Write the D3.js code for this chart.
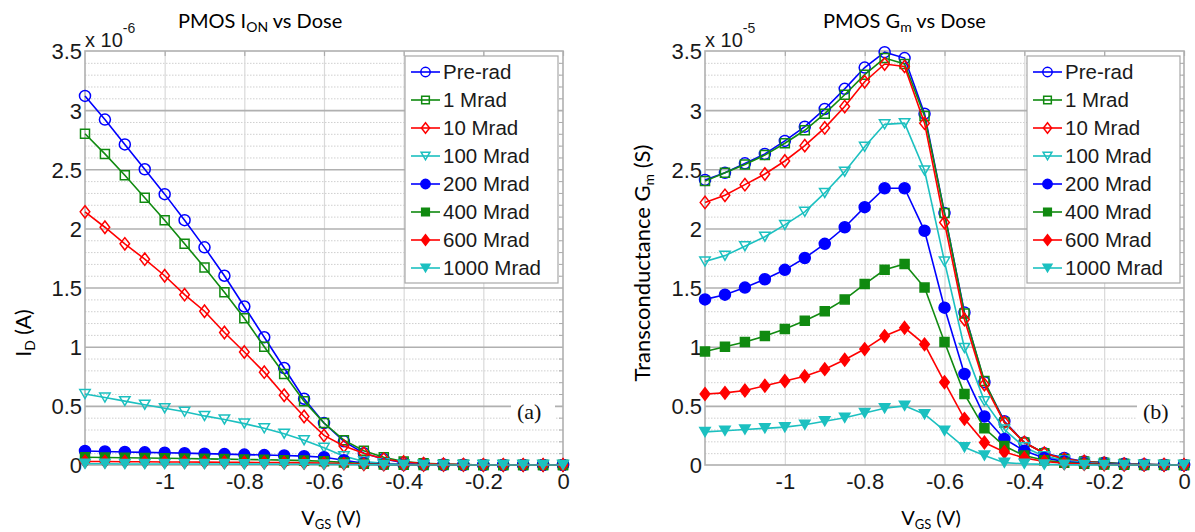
<!DOCTYPE html>
<html>
<head>
<meta charset="utf-8">
<script src="https://cdn.jsdelivr.net/npm/d3@7"></script>
<style>
  html, body { margin: 0; padding: 0; background: #fff; }
  svg { display: block; }
</style>
</head>
<body>
<svg id="chart" width="1195" height="532"></svg>
<script>
// ---------------- DATA ----------------
const vgs = [-1.2, -1.15, -1.1, -1.05, -1.0, -0.95, -0.9, -0.85, -0.8, -0.75, -0.7, -0.65, -0.6,
             -0.55, -0.5, -0.45, -0.4, -0.35, -0.3, -0.25, -0.2, -0.15, -0.1, -0.05, 0];

const seriesNames = ["Pre-rad", "1 Mrad", "10 Mrad", "100 Mrad", "200 Mrad", "400 Mrad", "600 Mrad", "1000 Mrad"];

// Drain current I_D (units of 1e-6 A)
const ionPreRad = [3.12, 2.92, 2.71, 2.50, 2.29, 2.07, 1.84, 1.60, 1.34, 1.08, 0.82, 0.56, 0.355, 0.20, 0.10, 0.05, 0.02, 0.01, 0.005, 0.002, 0, 0, 0, 0, 0];
const ion1M     = [2.80, 2.63, 2.45, 2.26, 2.07, 1.87, 1.67, 1.46, 1.24, 1.00, 0.77, 0.54, 0.355, 0.21, 0.12, 0.065, 0.03, 0.015, 0.007, 0.003, 0, 0, 0, 0, 0];
const ion10M    = [2.14, 2.01, 1.87, 1.74, 1.60, 1.44, 1.30, 1.12, 0.955, 0.785, 0.59, 0.41, 0.25, 0.16, 0.10, 0.05, 0.025, 0.012, 0.006, 0.003, 0, 0, 0, 0, 0];
const ion100M   = [0.60, 0.57, 0.54, 0.51, 0.48, 0.45, 0.415, 0.385, 0.35, 0.31, 0.265, 0.21, 0.145, 0.075, 0.03, 0.015, 0.006, 0.003, 0.001, 0, 0, 0, 0, 0, 0];
const ion200M   = [0.118, 0.114, 0.11, 0.107, 0.104, 0.10, 0.096, 0.092, 0.088, 0.084, 0.08, 0.075, 0.066, 0.04, 0.015, 0.006, 0.003, 0.001, 0, 0, 0, 0, 0, 0, 0];
const ion400M   = [0.065, 0.063, 0.061, 0.059, 0.057, 0.055, 0.052, 0.05, 0.047, 0.044, 0.041, 0.037, 0.032, 0.022, 0.01, 0.004, 0.002, 0.001, 0, 0, 0, 0, 0, 0, 0];
const ion600M   = [0.03, 0.029, 0.028, 0.027, 0.026, 0.025, 0.024, 0.023, 0.022, 0.021, 0.02, 0.018, 0.016, 0.012, 0.006, 0.003, 0.001, 0, 0, 0, 0, 0, 0, 0, 0];
const ion1000M  = [0.01, 0.01, 0.009, 0.009, 0.009, 0.008, 0.008, 0.008, 0.007, 0.007, 0.006, 0.006, 0.005, 0.004, 0.002, 0.001, 0, 0, 0, 0, 0, 0, 0, 0, 0];

// Transconductance G_m (units of 1e-5 S)
const gmPreRad = [2.41, 2.47, 2.55, 2.63, 2.74, 2.86, 3.01, 3.18, 3.36, 3.49, 3.44, 2.97, 2.13, 1.29, 0.70, 0.37, 0.19, 0.10, 0.06, 0.03, 0.02, 0.01, 0.005, 0.002, 0.001];
const gm1M     = [2.40, 2.47, 2.54, 2.62, 2.72, 2.83, 2.97, 3.13, 3.30, 3.44, 3.39, 2.95, 2.13, 1.28, 0.71, 0.36, 0.19, 0.10, 0.05, 0.03, 0.02, 0.01, 0.005, 0.002, 0.001];
const gm10M    = [2.22, 2.28, 2.37, 2.46, 2.57, 2.70, 2.85, 3.03, 3.24, 3.39, 3.37, 2.89, 2.05, 1.23, 0.68, 0.36, 0.19, 0.10, 0.05, 0.03, 0.015, 0.008, 0.004, 0.002, 0.001];
const gm100M   = [1.72, 1.77, 1.85, 1.93, 2.03, 2.14, 2.30, 2.48, 2.69, 2.88, 2.89, 2.49, 1.72, 0.99, 0.54, 0.30, 0.15, 0.075, 0.04, 0.02, 0.01, 0.005, 0.002, 0.001, 0];
const gm200M   = [1.40, 1.44, 1.50, 1.57, 1.65, 1.75, 1.87, 2.01, 2.18, 2.34, 2.34, 1.98, 1.33, 0.77, 0.41, 0.22, 0.12, 0.06, 0.03, 0.015, 0.008, 0.004, 0.002, 0.001, 0];
const gm400M   = [0.96, 1.00, 1.04, 1.09, 1.15, 1.22, 1.30, 1.40, 1.53, 1.65, 1.70, 1.50, 1.04, 0.60, 0.31, 0.16, 0.08, 0.04, 0.02, 0.01, 0.005, 0.002, 0.001, 0, 0];
const gm600M   = [0.60, 0.61, 0.63, 0.67, 0.71, 0.75, 0.81, 0.89, 0.98, 1.09, 1.16, 1.02, 0.70, 0.39, 0.19, 0.11, 0.06, 0.03, 0.015, 0.008, 0.004, 0.002, 0.001, 0, 0];
const gm1000M  = [0.28, 0.29, 0.30, 0.31, 0.32, 0.34, 0.37, 0.40, 0.44, 0.48, 0.50, 0.43, 0.29, 0.15, 0.08, 0.02, 0.01, 0.005, 0.002, 0.001, 0, 0, 0, 0, 0];

const xTicks = [-1, -0.8, -0.6, -0.4, -0.2, 0];
const yTicks = [0, 0.5, 1, 1.5, 2, 2.5, 3, 3.5];
const yMinorTicks = [0.1,0.2,0.3,0.4,0.6,0.7,0.8,0.9,1.1,1.2,1.3,1.4,1.6,1.7,1.8,1.9,2.1,2.2,2.3,2.4,2.6,2.7,2.8,2.9,3.1,3.2,3.3,3.4];

// ---------------- STYLE ----------------
const colors = ["#0000ff", "#108a10", "#ff0000", "#1cc0c0", "#0000ff", "#108a10", "#ff0000", "#1cc0c0"];
const shapes = ["circle", "square", "diamond", "tri", "circle", "square", "diamond", "tri"];
const filled = [false, false, false, false, true, true, true, true];

const svg = d3.select("#chart");
const ARIAL = "'Liberation Sans', Arial, sans-serif";
const CALIBRI = "Lato, 'Open Sans', sans-serif";
const TIMES = "'Liberation Serif', 'Times New Roman', serif";

function markerPath(shape, s) {
  s = s || 1;
  if (shape === "circle") return d3.symbol(d3.symbolCircle, Math.PI * 5.5 * 5.5 * s * s)();
  if (shape === "square") { const h = 4.5 * s; return `M${-h},${-h}L${h},${-h}L${h},${h}L${-h},${h}Z`; }
  if (shape === "diamond") { const w = 4.8 * s, h = 6.2 * s; return `M0,${-h}L${w},0L0,${h}L${-w},0Z`; }
  // triangle pointing down
  const w = 5.2 * s, h = 4.5 * s;
  return `M${-w},${-h}L${w},${-h}L0,${h}Z`;
}

function drawMarker(g, i, x, y, s) {
  g.append("path")
    .attr("d", markerPath(shapes[i], s))
    .attr("transform", `translate(${x},${y})`)
    .attr("fill", filled[i] ? colors[i] : "none")
    .attr("stroke", colors[i])
    .attr("stroke-width", 1.5);
}

function drawPanel(cfg) {
  const x = d3.scaleLinear().domain([-1.2, 0]).range([cfg.left, cfg.right]);
  const y = d3.scaleLinear().domain([0, 3.5]).range([cfg.bottom, cfg.top]);
  const W = cfg.right - cfg.left, H = cfg.bottom - cfg.top;
  const g = svg.append("g");

  // minor horizontal grid (dotted)
  g.append("g").attr("transform", `translate(${cfg.left},0)`)
    .call(d3.axisLeft(y).tickValues(yMinorTicks).tickSize(-W).tickFormat(""))
    .call(a => a.select(".domain").remove())
    .call(a => a.selectAll("line").attr("stroke", "#cfcfcf").attr("stroke-width", 1).attr("stroke-dasharray", "1.5,1.5"));

  // vertical major grid
  g.append("g").attr("transform", `translate(0,${cfg.bottom})`)
    .call(d3.axisBottom(x).tickValues(xTicks.slice(0, -1)).tickSize(-H).tickFormat(""))
    .call(a => a.select(".domain").remove())
    .call(a => a.selectAll("line").attr("stroke", "#d9d9d9").attr("stroke-width", 1.2));

  // horizontal major grid
  g.append("g").attr("transform", `translate(${cfg.left},0)`)
    .call(d3.axisLeft(y).tickValues(yTicks.slice(1, -1)).tickSize(-W).tickFormat(""))
    .call(a => a.select(".domain").remove())
    .call(a => a.selectAll("line").attr("stroke", "#b0b0b0").attr("stroke-width", 1.6));

  // minor ticks on right edge
  g.append("g").attr("transform", `translate(${cfg.right},0)`)
    .call(d3.axisLeft(y).tickValues(yMinorTicks).tickSize(4).tickFormat(""))
    .call(a => a.select(".domain").remove())
    .call(a => a.selectAll("line").attr("stroke", "#aaaaaa").attr("stroke-width", 1));
  // top ticks
  g.append("g").attr("transform", `translate(0,${cfg.top})`)
    .call(d3.axisBottom(x).tickValues(xTicks).tickSize(5).tickFormat(""))
    .call(a => a.select(".domain").remove())
    .call(a => a.selectAll("line").attr("stroke", "#aaaaaa").attr("stroke-width", 1.2));

  // "(a)" label with white box
  g.append("rect").attr("x", cfg.tagX - 6).attr("y", 398).attr("width", 44).attr("height", 29).attr("fill", "#fff");
  g.append("text").attr("x", cfg.tagX).attr("y", 419)
    .attr("font-family", TIMES).attr("font-size", 22).attr("fill", "#111").text(cfg.tag);

  // frame
  g.append("rect").attr("x", cfg.left).attr("y", cfg.top).attr("width", W).attr("height", H)
    .attr("fill", "none").attr("stroke", "#b0b0b0").attr("stroke-width", 1.6);

  // axis labels (tick)
  g.append("g").attr("transform", `translate(${cfg.left},0)`)
    .call(d3.axisLeft(y).tickValues(yTicks).tickSize(0).tickPadding(3).tickFormat(d => String(d)))
    .call(a => a.select(".domain").remove())
    .call(a => a.selectAll("text").attr("font-family", ARIAL).attr("font-size", 22).attr("fill", "#1a1a1a").attr("dy", "0.36em"));
  g.append("g").attr("transform", `translate(0,${cfg.bottom})`)
    .call(d3.axisBottom(x).tickValues(xTicks).tickSize(0).tickPadding(8).tickFormat(d => String(d)))
    .call(a => a.select(".domain").remove())
    .call(a => a.selectAll("text").attr("font-family", ARIAL).attr("font-size", 22).attr("fill", "#1a1a1a").attr("dy", "0.71em"));

  // exponent label
  const ex = g.append("text").attr("x", cfg.left).attr("y", 47)
    .attr("font-family", ARIAL).attr("font-size", 20).attr("fill", "#1a1a1a");
  ex.append("tspan").text("x 10");
  ex.append("tspan").attr("dy", -14).attr("font-size", 14).text(cfg.exp);

  // series
  const line = d3.line().x((d, k) => x(vgs[k])).y(d => y(d));
  cfg.series.forEach((vals, i) => {
    g.append("path").datum(vals).attr("d", line)
      .attr("fill", "none").attr("stroke", colors[i]).attr("stroke-width", 1.6);
    const mg = g.append("g");
    vals.forEach((v, k) => drawMarker(mg, i, x(vgs[k]), y(v), 1));
  });

  // legend
  const lg = g.append("g");
  lg.append("rect").attr("x", cfg.legX).attr("y", cfg.legY).attr("width", 153).attr("height", 227)
    .attr("fill", "#fff").attr("stroke", "#a8a8a8").attr("stroke-width", 1.2);
  seriesNames.forEach((name, i) => {
    const yy = cfg.legY + 16 + i * 28;
    lg.append("line").attr("x1", cfg.legX + 6).attr("x2", cfg.legX + 35).attr("y1", yy).attr("y2", yy)
      .attr("stroke", colors[i]).attr("stroke-width", 1.6);
    drawMarker(lg, i, cfg.legX + 20.5, yy, 0.85);
    lg.append("text").attr("x", cfg.legX + 38).attr("y", yy + 7)
      .attr("font-family", ARIAL).attr("font-size", 20.5).attr("fill", "#1a1a1a").text(name);
  });

  // title
  const t = g.append("text").attr("x", cfg.titleX).attr("y", 28)
    .attr("font-family", CALIBRI).attr("font-size", 20).attr("fill", "#000");
  t.append("tspan").text(cfg.title[0]);
  t.append("tspan").attr("dy", 4).attr("font-size", 14).text(cfg.title[1]);
  t.append("tspan").attr("dy", -4).text(cfg.title[2]);

  // x label
  const xl = g.append("text").attr("x", cfg.xlabX).attr("y", 525).attr("text-anchor", "middle")
    .attr("font-family", CALIBRI).attr("font-size", 20).attr("fill", "#000");
  xl.append("tspan").text("V");
  xl.append("tspan").attr("dy", 4).attr("font-size", 13).text("GS");
  xl.append("tspan").attr("dy", -4).text(" (V)");

  // y label
  const yl = g.append("text").attr("transform", `translate(${cfg.ylabX},${cfg.ylabY}) rotate(-90)`)
    .attr("text-anchor", "middle").attr("font-family", CALIBRI).attr("font-size", cfg.ylabSize).attr("fill", "#000");
  yl.append("tspan").text(cfg.ylab[0]);
  yl.append("tspan").attr("dy", 4).attr("font-size", 14).text(cfg.ylab[1]);
  yl.append("tspan").attr("dy", -4).text(cfg.ylab[2]);
}

drawPanel({
  left: 85, right: 563, top: 51, bottom: 465,
  series: [ionPreRad, ion1M, ion10M, ion100M, ion200M, ion400M, ion600M, ion1000M],
  exp: "-6", tag: "(a)", tagX: 517,
  legX: 405, legY: 56,
  title: ["PMOS I", "ON", " vs Dose"], titleX: 178,
  xlabX: 331, ylabX: 31, ylabY: 333, ylabSize: 21, ylab: ["I", "D", " (A)"]
});

drawPanel({
  left: 705, right: 1184, top: 51, bottom: 465,
  series: [gmPreRad, gm1M, gm10M, gm100M, gm200M, gm400M, gm600M, gm1000M],
  exp: "-5", tag: "(b)", tagX: 1143,
  legX: 1027, legY: 56,
  title: ["PMOS G", "m", " vs Dose"], titleX: 823,
  xlabX: 931, ylabX: 650, ylabY: 263, ylabSize: 22, ylab: ["Transconductance G", "m", " (S)"]
});
</script>
</body>
</html>
